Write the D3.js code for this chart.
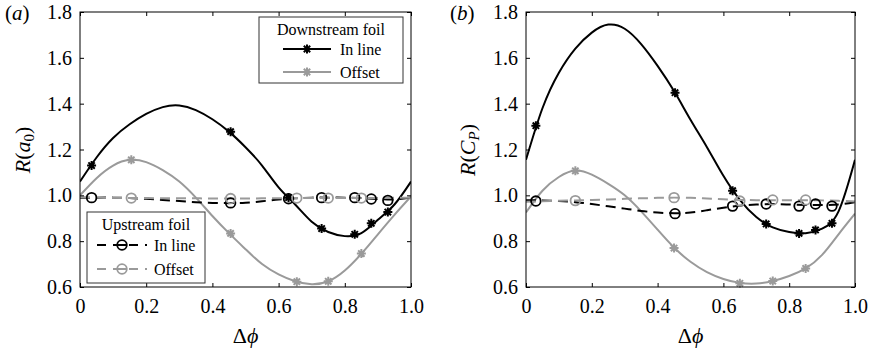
<!DOCTYPE html>
<html>
<head>
<meta charset="utf-8">
<script src="https://cdn.jsdelivr.net/npm/d3@7/dist/d3.min.js"></script>
<style>
  html, body { margin: 0; padding: 0; background: #fff; }
  svg { display: block; }
  svg text { font-family: "Liberation Serif", "Times New Roman", serif; fill: #000; }
</style>
</head>
<body>
<svg id="chart" width="870" height="353"></svg>
<script>
// ---------- DATA ----------
const phiGrid = [0,0.05,0.1,0.15,0.2,0.25,0.3,0.35,0.4,0.45,0.5,0.55,0.6,0.65,0.7,0.75,0.8,0.85,0.9,0.95,1.0];

// Panel (a): R(a0) fitted curves
const aDownInline  = [1.06,1.165,1.25,1.31,1.355,1.385,1.392,1.372,1.332,1.278,1.21,1.13,1.035,0.96,0.885,0.84,0.822,0.835,0.893,0.96,1.06];
const aDownOffset  = [1.0,1.075,1.13,1.155,1.145,1.11,1.06,0.99,0.91,0.835,0.765,0.70,0.655,0.625,0.612,0.625,0.672,0.745,0.83,0.915,0.995];
const aUpInline    = [0.99,0.99,0.99,0.988,0.985,0.98,0.975,0.97,0.967,0.966,0.968,0.974,0.982,0.987,0.99,0.99,0.99,0.988,0.984,0.982,0.99];
const aUpOffset    = [0.992,0.99,0.989,0.988,0.988,0.987,0.987,0.987,0.986,0.986,0.986,0.987,0.987,0.988,0.988,0.988,0.988,0.988,0.988,0.989,0.99];

// Panel (a): measured points
const aInlineX       = [0.035,0.455,0.63,0.73,0.83,0.88,0.93];
const aDownInlinePts = [1.13,1.278,0.99,0.855,0.83,0.878,0.927];
const aUpInlinePts   = [0.99,0.967,0.985,0.99,0.99,0.984,0.978];
const aOffsetX       = [0.155,0.455,0.655,0.75,0.85];
const aDownOffsetPts = [1.155,0.834,0.623,0.625,0.746];
const aUpOffsetPts   = [0.988,0.986,0.988,0.988,0.988];

// Panel (b): R(C_P) fitted curves
const bDownInline  = [1.155,1.38,1.535,1.64,1.71,1.745,1.727,1.66,1.565,1.455,1.33,1.21,1.085,0.98,0.905,0.86,0.84,0.835,0.855,0.93,1.155];
const bDownOffset  = [0.925,1.02,1.08,1.108,1.09,1.05,1.0,0.93,0.85,0.772,0.71,0.665,0.635,0.618,0.615,0.626,0.648,0.681,0.74,0.83,0.92];
const bUpInline    = [0.978,0.978,0.975,0.97,0.962,0.952,0.942,0.932,0.925,0.922,0.925,0.935,0.946,0.955,0.96,0.962,0.96,0.958,0.958,0.96,0.97];
const bUpOffset    = [0.972,0.974,0.976,0.978,0.98,0.982,0.985,0.987,0.989,0.99,0.989,0.986,0.983,0.98,0.979,0.979,0.979,0.979,0.978,0.976,0.973];

// Panel (b): measured points
const bInlineX       = [0.03,0.453,0.628,0.73,0.83,0.88,0.93];
const bDownInlinePts = [1.304,1.448,1.02,0.875,0.834,0.849,0.878];
const bUpInlinePts   = [0.975,0.92,0.953,0.962,0.953,0.962,0.953];
const bOffsetX       = [0.15,0.45,0.65,0.75,0.85];
const bDownOffsetPts = [1.107,0.77,0.616,0.626,0.681];
const bUpOffsetPts   = [0.977,0.99,0.975,0.98,0.98];

const xTicks = [0,0.2,0.4,0.6,0.8,1.0];
const xTickLabels = ["0","0.2","0.4","0.6","0.8","1.0"];
const yTicks = [0.6,0.8,1.0,1.2,1.4,1.6,1.8];
const yTickLabels = ["0.6","0.8","1.0","1.2","1.4","1.6","1.8"];

const legendDownTitle = "Downstream foil";
const legendUpTitle = "Upstream foil";
const legendNames = ["In line","Offset"];

// ---------- STYLE ----------
const FONT = "Liberation Serif";
const BLACK = "#000";
const GRAY = "#9a9a9a";
const svg = d3.select("#chart");

function starPath(r) {
  const d = r * Math.SQRT1_2;
  return `M${-r},0L${r},0M0,${-r}L0,${r}M${-d},${-d}L${d},${d}M${-d},${d}L${d},${-d}`;
}

function drawPanel(cfg) {
  const x = d3.scaleLinear().domain([0,1]).range([cfg.x0, cfg.x1]);
  const y = d3.scaleLinear().domain([0.6,1.8]).range([287, 12]);
  const g = svg.append("g");

  const line = d3.line().x((d,i)=>x(phiGrid[i])).y(d=>y(d)).curve(d3.curveNatural);

  const series = [
    {vals: cfg.downInline, color: BLACK, dash: null, mx: cfg.inlineX, my: cfg.downInlinePts, mk: "star"},
    {vals: cfg.downOffset, color: GRAY, dash: null, mx: cfg.offsetX, my: cfg.downOffsetPts, mk: "star"},
    {vals: cfg.upInline, color: BLACK, dash: "10,6", mx: cfg.inlineX, my: cfg.upInlinePts, mk: "circle"},
    {vals: cfg.upOffset, color: GRAY, dash: "10,6", mx: cfg.offsetX, my: cfg.upOffsetPts, mk: "circle"}
  ];

  const clipId = "clip" + cfg.id;
  svg.append("clipPath").attr("id", clipId).append("rect")
    .attr("x", cfg.x0).attr("y", 12).attr("width", cfg.x1 - cfg.x0).attr("height", 275);

  series.forEach(s => {
    g.append("path").attr("d", line(s.vals)).attr("fill","none")
      .attr("stroke", s.color).attr("stroke-width", 2)
      .attr("stroke-dasharray", s.dash).attr("clip-path", `url(#${clipId})`);
  });
  series.forEach(s => {
    s.mx.forEach((xv,i) => {
      if (s.mk === "star") {
        g.append("path").attr("d", starPath(4.5))
          .attr("transform", `translate(${x(xv)},${y(s.my[i])})`)
          .attr("stroke", s.color).attr("stroke-width", 2).attr("fill","none");
      } else {
        g.append("circle").attr("cx", x(xv)).attr("cy", y(s.my[i])).attr("r", 4.8)
          .attr("stroke", s.color).attr("stroke-width", 1.8).attr("fill","none");
      }
    });
  });

  g.append("rect").attr("x", cfg.x0).attr("y", 12).attr("width", cfg.x1-cfg.x0).attr("height", 275)
    .attr("fill","none").attr("stroke","#000").attr("stroke-width",1);
  const ax = g.append("g").attr("transform","translate(0,287)")
    .call(d3.axisBottom(x).tickValues(xTicks).tickSize(-4).tickFormat((d,i)=>xTickLabels[i]));
  const axT = g.append("g").attr("transform","translate(0,12)")
    .call(d3.axisTop(x).tickValues(xTicks).tickSize(-4).tickFormat(""));
  const ay = g.append("g").attr("transform",`translate(${cfg.x0},0)`)
    .call(d3.axisLeft(y).tickValues(yTicks).tickSize(-4).tickFormat((d,i)=>yTickLabels[i]));
  const ayR = g.append("g").attr("transform",`translate(${cfg.x1},0)`)
    .call(d3.axisRight(y).tickValues(yTicks).tickSize(-4).tickFormat(""));
  [ax, axT, ay, ayR].forEach(a => {
    a.attr("font-family", FONT);
    a.select(".domain").remove();
    a.selectAll("line").attr("stroke","#000");
  });
  ax.selectAll("text").attr("font-size",20).attr("dy", null).attr("y", 26);
  ay.selectAll("text").attr("font-size",20).attr("x", -8).attr("dy","0.33em");

  const xl = g.append("text").attr("x", (cfg.x0+cfg.x1)/2).attr("y", 343)
    .attr("text-anchor","middle").attr("font-size", 22).attr("font-family", FONT);
  xl.append("tspan").text("Δ");
  xl.append("tspan").attr("font-style","italic").text("ϕ");

  const yl = g.append("text").attr("transform", `translate(${cfg.ylx},150) rotate(-90)`)
    .attr("text-anchor","middle").attr("font-size", 22).attr("font-family", FONT);
  yl.append("tspan").attr("font-style","italic").text("R");
  yl.append("tspan").text("(");
  yl.append("tspan").attr("font-style","italic").text(cfg.ylMain);
  yl.append("tspan").attr("font-size",15).attr("dy", 4).attr("font-style", cfg.ylSubItalic ? "italic" : "normal").text(cfg.ylSub);
  yl.append("tspan").attr("dy", -4).text(")");

  const pl = g.append("text").attr("x", cfg.plx).attr("y", 20).attr("font-size", 21).attr("font-family", FONT);
  pl.append("tspan").text("(");
  pl.append("tspan").attr("font-style","italic").text(cfg.letter);
  pl.append("tspan").text(")");
}

drawPanel({id:"a", x0:80, x1:411, downInline:aDownInline, downOffset:aDownOffset, upInline:aUpInline, upOffset:aUpOffset,
  inlineX:aInlineX, offsetX:aOffsetX, downInlinePts:aDownInlinePts, downOffsetPts:aDownOffsetPts,
  upInlinePts:aUpInlinePts, upOffsetPts:aUpOffsetPts, ylx:30, ylMain:"a", ylSub:"0", ylSubItalic:false, plx:5, letter:"a"});
drawPanel({id:"b", x0:526, x1:855, downInline:bDownInline, downOffset:bDownOffset, upInline:bUpInline, upOffset:bUpOffset,
  inlineX:bInlineX, offsetX:bOffsetX, downInlinePts:bDownInlinePts, downOffsetPts:bDownOffsetPts,
  upInlinePts:bUpInlinePts, upOffsetPts:bUpOffsetPts, ylx:475, ylMain:"C", ylSub:"P", ylSubItalic:true, plx:450, letter:"b"});

function legend(box, title, entries) {
  const g = svg.append("g").attr("font-family", FONT);
  g.append("rect").attr("x", box.x).attr("y", box.y).attr("width", box.w).attr("height", box.h)
    .attr("fill","#fff").attr("stroke","#333").attr("stroke-width",1);
  g.append("text").attr("x", box.x + box.w/2).attr("y", box.y + 18).attr("text-anchor","middle")
    .attr("font-size",16).text(title);
  entries.forEach((e,i) => {
    const yy = box.y + box.rowY[i];
    g.append("line").attr("x1", box.lx0).attr("x2", box.lx1).attr("y1", yy).attr("y2", yy)
      .attr("stroke", e.color).attr("stroke-width", 2).attr("stroke-dasharray", e.dash);
    const mx = (box.lx0 + box.lx1)/2;
    if (e.mk === "star") {
      g.append("path").attr("d", starPath(4.5)).attr("transform", `translate(${mx},${yy})`)
        .attr("stroke", e.color).attr("stroke-width",2).attr("fill","none");
    } else {
      g.append("circle").attr("cx", mx).attr("cy", yy).attr("r", 4.8)
        .attr("stroke", e.color).attr("stroke-width",1.8).attr("fill","#fff");
      g.append("line").attr("x1", mx-4.8).attr("x2", mx+4.8).attr("y1", yy).attr("y2", yy)
        .attr("stroke", e.color).attr("stroke-width", 2);
    }
    g.append("text").attr("x", box.tx).attr("y", yy + 5.5).attr("font-size",16).text(legendNames[i]);
  });
}
legend({x:259, y:17, w:144, h:66, rowY:[32,55], lx0:283, lx1:331, tx:340}, legendDownTitle,
  [{color:BLACK, dash:null, mk:"star"}, {color:GRAY, dash:null, mk:"star"}]);
legend({x:87, y:212, w:118, h:71, rowY:[33,57], lx0:97, lx1:147, tx:154}, legendUpTitle,
  [{color:BLACK, dash:"9,7", mk:"circle"}, {color:GRAY, dash:"9,7", mk:"circle"}]);
</script>
</body>
</html>
